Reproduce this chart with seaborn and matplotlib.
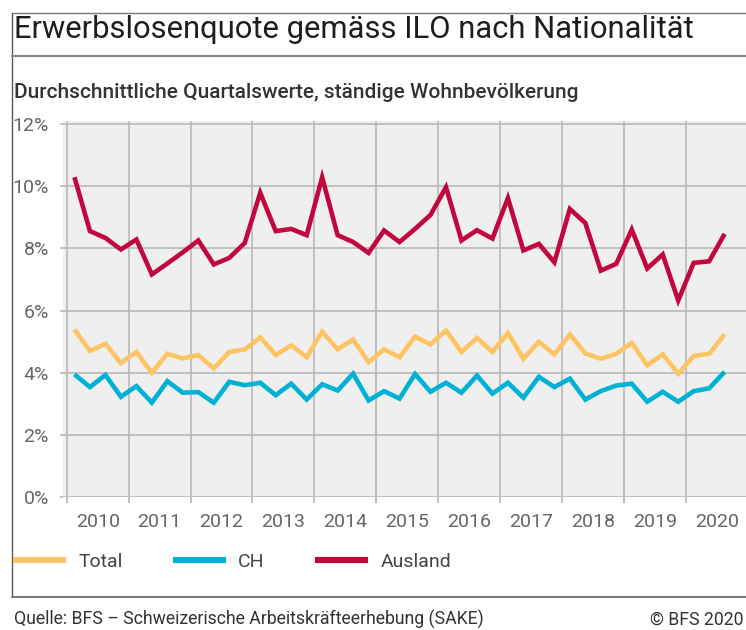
import numpy as np
import pandas as pd
import matplotlib
matplotlib.use("Agg")
import matplotlib.pyplot as plt
from matplotlib.lines import Line2D
from matplotlib.ticker import FixedLocator, FuncFormatter
import seaborn as sns

# Quartalswerte 2010 Q1 bis 2020 Q3 (in %)
jahre = list(range(2010, 2021))
quartale = [(j, q) for j in jahre for q in (1, 2, 3, 4)][:43]

total = [5.39, 4.70, 4.93, 4.31, 4.67, 4.00, 4.61, 4.46, 4.57, 4.14, 4.67,
         4.75, 5.14, 4.57, 4.88, 4.50, 5.32, 4.75, 5.07, 4.34, 4.75, 4.50,
         5.16, 4.91, 5.36, 4.67, 5.12, 4.67, 5.28, 4.45, 5.00, 4.59, 5.23,
         4.62, 4.45, 4.61, 4.96, 4.24, 4.59, 3.97, 4.54, 4.61, 5.23]
ch = [3.95, 3.54, 3.93, 3.23, 3.57, 3.04, 3.73, 3.36, 3.38, 3.04, 3.71,
      3.60, 3.68, 3.28, 3.65, 3.14, 3.63, 3.43, 3.97, 3.11, 3.41, 3.17,
      3.96, 3.39, 3.68, 3.36, 3.91, 3.33, 3.68, 3.20, 3.87, 3.54, 3.81,
      3.14, 3.41, 3.59, 3.65, 3.07, 3.39, 3.07, 3.41, 3.50, 4.03]
ausland = [10.28, 8.55, 8.33, 7.96, 8.28, 7.16, 7.51, 7.87, 8.25, 7.48, 7.69,
           8.17, 9.78, 8.55, 8.62, 8.42, 10.28, 8.42, 8.20, 7.85, 8.57, 8.20,
           8.62, 9.07, 9.96, 8.25, 8.58, 8.31, 9.61, 7.93, 8.14, 7.55, 9.26,
           8.81, 7.28, 7.50, 8.60, 7.35, 7.80, 6.32, 7.53, 7.58, 8.46]

serien = ["Total", "CH", "Ausland"]
farben = {"Total": "#FEC463", "CH": "#00B1D6", "Ausland": "#C2073F"}

# Position jedes Quartals = Mitte des Quartals auf der Jahresachse
zeit = [j + (q - 0.5) / 4 for j, q in quartale]
df = pd.DataFrame({"Zeit": zeit, "Total": total, "CH": ch, "Ausland": ausland})
df_long = df.melt(id_vars="Zeit", var_name="Serie", value_name="Quote")

sns.set_style("white")
plt.rcParams["font.family"] = ["Roboto", "DejaVu Sans"]

W, H = 746, 630
fig = plt.figure(figsize=(W / 100, H / 100), dpi=100)

def fx(px):
    return px / W

def fy(px):
    return 1 - px / H

# Achse: 0% bei y=497.3 px, 12% bei y=123.7 px
y_top = 12.08
px_per = (497.3 - 123.7) / 12
ax_top = 497.3 - y_top * px_per
ax = fig.add_axes([fx(62.7), fy(497.3), 1 - fx(62.7), (497.3 - ax_top) / H])
ax.set_facecolor("#EFEFEF")

sns.lineplot(data=df_long, x="Zeit", y="Quote", hue="Serie", hue_order=serien,
             palette=farben, linewidth=3.3, ax=ax, legend=False)
for ln in ax.get_lines():
    ln.set_solid_joinstyle("miter")
    ln.set_solid_capstyle("butt")

ax.set_xlim(2009.935, 2020.97)
ax.set_ylim(0, y_top)
ax.set_xlabel("")
ax.set_ylabel("")

# Gitter: Jahresgrenzen vertikal, 2%-Schritte horizontal
ax.xaxis.set_major_locator(FixedLocator(list(range(2010, 2021))))
ax.xaxis.set_minor_locator(FixedLocator([j + 0.5 for j in jahre]))
ax.xaxis.set_major_formatter(FuncFormatter(lambda v, p: ""))
ax.xaxis.set_minor_formatter(FuncFormatter(lambda v, p: f"{int(v)}"))
ax.set_yticks([0, 2, 4, 6, 8, 10, 12])
ax.yaxis.set_major_formatter(FuncFormatter(lambda v, p: f"{int(v)}%"))

ax.grid(True, which="major", color="#B8B8B8", linewidth=1.2)
ax.set_axisbelow(True)
ax.tick_params(axis="x", which="major", length=4, width=1.2, color="#B8B8B8",
               direction="out", bottom=True)
ax.tick_params(axis="x", which="minor", length=0, pad=11, labelsize=14,
               labelcolor="#666666", bottom=True)
ax.tick_params(axis="y", length=2, width=1.2, color="#B8B8B8", pad=8,
               labelsize=14, labelcolor="#666666", left=True)
for s in ax.spines.values():
    s.set_visible(False)

# Rahmenlinien
grau = "#7A7A7A"
fig.add_artist(Line2D([fx(12.3), 1], [fy(13.3), fy(13.3)], color=grau, lw=1.0,
                      transform=fig.transFigure))
fig.add_artist(Line2D([fx(12.3), fx(12.3)], [fy(13.3), fy(597)], color="#555555",
                      lw=1.0, transform=fig.transFigure))
fig.add_artist(Line2D([fx(12.3), 1], [fy(55.7), fy(55.7)], color="#8A8A8A", lw=1.6,
                      transform=fig.transFigure))
fig.add_artist(Line2D([fx(12.3), 1], [fy(597), fy(597)], color=grau, lw=1.5,
                      transform=fig.transFigure))

# Texte
fig.text(fx(14), fy(37.5), "Erwerbslosenquote gemäss ILO nach Nationalität",
         fontsize=22.3, color="#1E1E1E", va="baseline", ha="left")
fig.text(fx(14), fy(97.7), "Durchschnittliche Quartalswerte, ständige Wohnbevölkerung",
         fontsize=15, fontweight="medium", color="#333333", va="baseline", ha="left")
fig.text(fx(14), fy(625), "Quelle: BFS – Schweizerische Arbeitskräfteerhebung (SAKE)",
         fontsize=12.7, color="#333333", va="baseline", ha="left")
fig.text(fx(744), fy(625), "© BFS 2020", fontsize=12.7, color="#333333",
         va="baseline", ha="right")

# Legende
handles = [Line2D([], [], color=farben[s], lw=4.4, solid_capstyle="butt") for s in serien]
leg = fig.legend(handles, serien, loc="center left",
                 bbox_to_anchor=(fx(13), fy(561.7)), ncol=3, frameon=False,
                 fontsize=14, handlelength=2.7, handletextpad=0.65,
                 columnspacing=2.6, borderpad=0, borderaxespad=0)
for t in leg.get_texts():
    t.set_color("#444444")

fig.savefig("out.png", dpi=100)
